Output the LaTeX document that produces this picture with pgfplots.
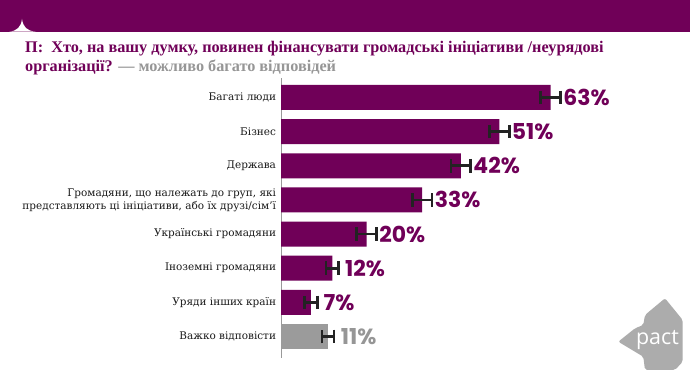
\documentclass[border=0pt]{standalone}
\usepackage{pgfplots}
\pgfplotsset{compat=1.18}
\usepackage{fontspec}
\setmainfont{Liberation Serif}
\newfontfamily\pop{Poppins}
\newfontfamily\osans{Open Sans}
\newfontfamily\dser{DejaVu Serif}
\definecolor{pur}{RGB}{112,0,88}
\definecolor{gbar}{RGB}{155,155,155}
\definecolor{glab}{RGB}{150,150,150}
\definecolor{logo}{RGB}{172,172,172}
\definecolor{ebar}{RGB}{35,35,35}
\begin{document}
\begin{tikzpicture}
\useasboundingbox (0bp,0bp) rectangle (690bp,373bp);
\fill[white] (0bp,0bp) rectangle (690bp,373bp);
% header band
\fill[pur] (0bp,341.3bp) rectangle (690bp,373bp);
\fill[white] (9bp,341.3bp) .. controls (17bp,342bp) and (21bp,346bp) .. (22bp,354bp) .. controls (23bp,346bp) and (27bp,342bp) .. (36bp,341.3bp) -- cycle;
% title
\node[anchor=base west, inner sep=0, text=pur, font=\bfseries\fontsize{16.3}{18}\selectfont] at (25bp,320bp)
  {П:\ \ Хто, на вашу думку, повинен фінансувати громадські ініціативи /неурядові};
\node[anchor=base west, inner sep=0, text=pur, font=\bfseries\fontsize{16.3}{18}\selectfont] at (25bp,301bp)
  {організації? \textcolor{glab}{— можливо багато відповідей}};
% logo
\fill[logo, rounded corners=2bp] (665bp,74.7bp) -- (682.7bp,53bp) -- (682.7bp,11.3bp) -- (675bp,3bp) -- (645bp,3bp) -- (643.3bp,16.3bp)
  -- (618.3bp,31.3bp) -- (635bp,44.7bp) -- (643.3bp,48bp) -- (645bp,58bp) -- cycle;
\node[text=white, font=\osans\fontsize{21.5}{22}\selectfont, inner sep=0] at (657.5bp,33bp) {pact};
\begin{axis}[
  at={(281bp,295bp)}, anchor=north west,
  width=342.4bp, height=280bp, scale only axis,
  xmin=0, xmax=80, ymin=-0.57, ymax=7.63, y dir=reverse,
  axis x line=none, axis y line*=left,
  y axis line style={black!40, line width=0.9bp},
  ytick={0,...,7},
  yticklabels={Багаті люди, Бізнес, Держава,
    {Громадяни, що належать до груп, які\\представляють ці ініціативи, або їх друзі/сім’ї},
    Українські громадяни, Іноземні громадяни, Уряди інших країн, Важко відповісти},
  major tick length=0,
  yticklabel style={align=right, font=\dser\fontsize{10.5}{13}\selectfont, text=black!90, xshift=-1.5bp},
  xbar, bar width=25bp, bar shift=0pt, clip=false,
  point meta=x,
  nodes near coords={\pgfmathprintnumber[assume math mode=true]{\pgfplotspointmeta}\%},
  nodes near coords style={anchor=west, xshift=12.5bp, inner sep=0,
     font=\pop\bfseries\fontsize{22}{22}\selectfont},
  error bars/x dir=both, error bars/x explicit,
  error bars/error bar style={line width=2.8bp, ebar},
  error bars/error mark options={line width=2.8bp, ebar, mark size=6.8bp, rotate=90},
]
\addplot[fill=pur, draw=none, nodes near coords style={text=pur}]
  table[x=v, y=i, x error=e] {
  i v e
  0 63 2.3
  1 51 2.3
  2 42 2.3
  3 33 2.3
  4 20 2.3
  5 12 1.5
  6 7 1.5
};
\addplot[fill=gbar, draw=none, nodes near coords style={text=glab}]
  table[x=v, y=i, x error=e] {
  i v e
  7 11 1.4
};
\end{axis}
\end{tikzpicture}
\end{document}
